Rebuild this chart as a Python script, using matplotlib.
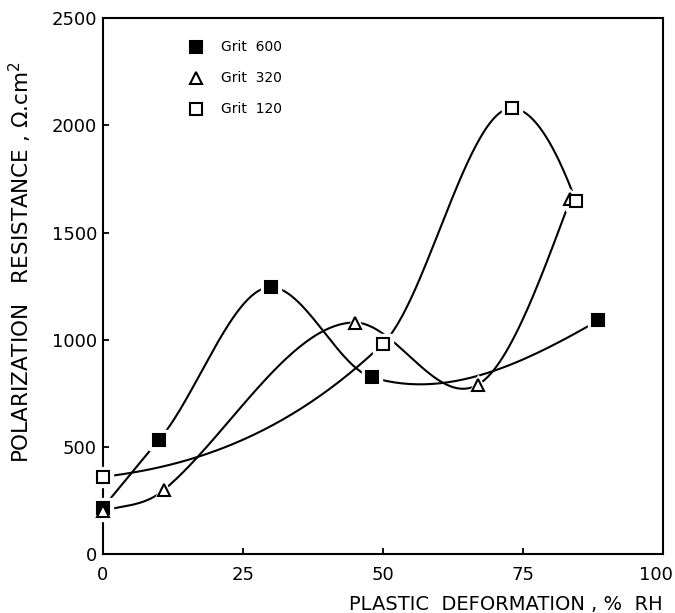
import numpy as np
import matplotlib
matplotlib.use("Agg")
import matplotlib.pyplot as plt
from matplotlib.transforms import ScaledTranslation

# values
deformation_600 = [0, 10, 30, 48, 88.5]
resistance_600 = [215, 530, 1245, 825, 1090]
slope_600 = [31, 30, 0, -8, 15]          # curve slope at each point

deformation_320 = [0, 11, 45, 67, 83.5]
resistance_320 = [200, 300, 1080, 790, 1655]
slope_320 = [8, 22, 0, 15, 70]

deformation_120 = [0, 50, 73, 84.5]
resistance_120 = [360, 980, 2080, 1645]
slope_120 = [3, 25, 0, -70]

labels = ["Grit 600", "Grit 320", "Grit 120"]


def hermite(x, y, m, n=60):
    """Smooth hand-drawn-like curve through the points (cubic Hermite)"""
    xs_all, ys_all = [], []
    for i in range(len(x) - 1):
        h = x[i + 1] - x[i]
        t = np.linspace(0, 1, n)
        h00 = 2 * t ** 3 - 3 * t ** 2 + 1
        h10 = t ** 3 - 2 * t ** 2 + t
        h01 = -2 * t ** 3 + 3 * t ** 2
        h11 = t ** 3 - t ** 2
        xs_all.append(x[i] + t * h)
        ys_all.append(h00 * y[i] + h10 * h * m[i] + h01 * y[i + 1] + h11 * h * m[i + 1])
    return np.concatenate(xs_all), np.concatenate(ys_all)


plt.rcParams['font.family'] = ['DejaVu Sans']

fig = plt.figure(figsize=(6.75, 6.13), dpi=100)
ax = fig.add_axes([0.152, 0.0963, 0.830, 0.874])

series = [
    (deformation_600, resistance_600, slope_600, "s", "black"),
    (deformation_320, resistance_320, slope_320, "^", "white"),
    (deformation_120, resistance_120, slope_120, "s", "white"),
]

for xd, yd, md, mk, fc in series:
    xs, ys = hermite(xd, yd, md)
    ax.plot(xs, ys, color="black", lw=1.5, zorder=2)

# white halo round every marker, like the gaps in the original drawing
for xd, yd, md, mk, fc in series:
    ax.plot(xd, yd, mk, ms=14, color="white", mec="white", zorder=3,
            clip_on=False)

for xd, yd, md, mk, fc in series:
    ax.plot(xd, yd, mk, ms=8.5, mfc=fc, mec="black", mew=1.5, zorder=4,
            clip_on=False)

# legend drawn by hand, placed like the original
for i, ((xd, yd, md, mk, fc), lab) in enumerate(zip(series, labels)):
    yy = 0.946 - i * 0.058
    ax.plot([0.167], [yy], mk, ms=8, mfc=fc, mec="black", mew=1.5,
            transform=ax.transAxes)
    ax.text(0.212, yy, lab.replace(" ", "  "), transform=ax.transAxes,
            fontsize=10, va="center", ha="left")

ax.set_xlim(0, 100)
ax.set_ylim(0, 2500)
ax.set_xticks([0, 25, 50, 75, 100])
ax.set_yticks([0, 500, 1000, 1500, 2000, 2500])
ax.tick_params(direction="in", length=4.5, width=1.3, labelsize=13,
               top=False, right=False)
ax.tick_params(axis="x", pad=9)
ax.tick_params(axis="y", pad=4)
for sp in ax.spines.values():
    sp.set_linewidth(1.5)

# last x tick label sits a little left of the corner
last = ax.get_xticklabels()[-1]
last.set_transform(last.get_transform() + ScaledTranslation(-0.07, 0, fig.dpi_scale_trans))

ax.set_xlabel("PLASTIC  DEFORMATION , %  RH", fontsize=14, ha="right")
ax.xaxis.set_label_coords(1.0, -0.076)
ax.set_ylabel("POLARIZATION   RESISTANCE , \u03a9.cm$^2$", fontsize=15.5)
ax.yaxis.set_label_coords(-0.123, 0.545)

fig.savefig("out.png", dpi=100)
